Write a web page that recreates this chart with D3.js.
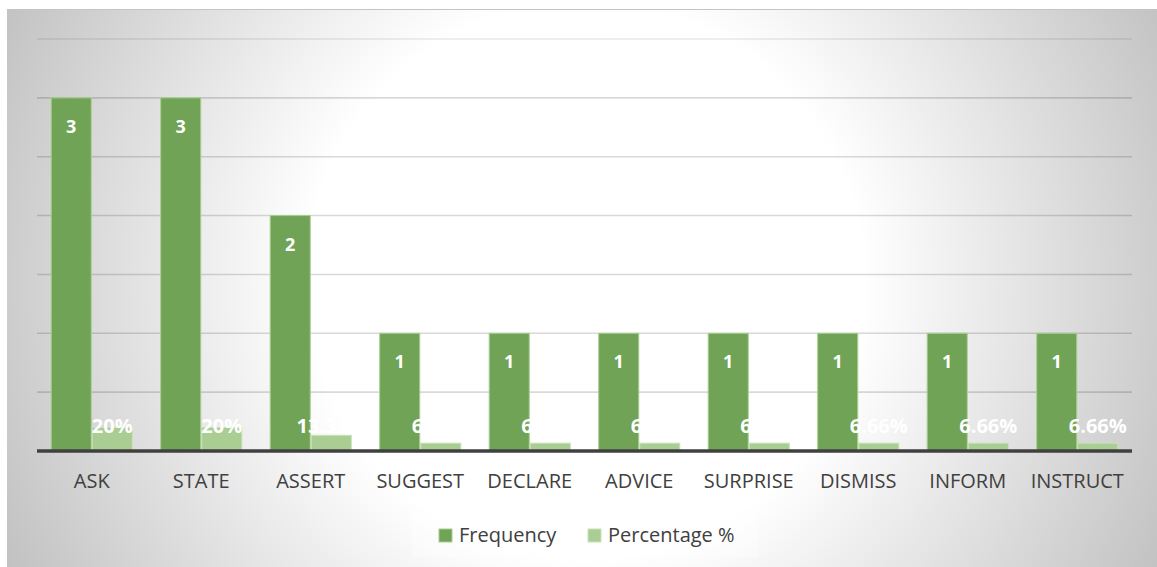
<!DOCTYPE html>
<html>
<head>
<meta charset="utf-8">
<script src="https://cdn.jsdelivr.net/npm/d3@7"></script>
<style>
  body { margin: 0; background: #fff; }
  svg { display: block; font-family: "Open Sans", "Noto Sans", sans-serif; }
</style>
</head>
<body>
<div class="holder"></div>
<script>
const wd = 1157
const ht = 567

// data
const categories = ["ASK", "STATE", "ASSERT", "SUGGEST", "DECLARE", "ADVICE", "SURPRISE", "DISMISS", "INFORM", "INSTRUCT"]
const frequency = [3, 3, 2, 1, 1, 1, 1, 1, 1, 1]
const percentage = [0.20, 0.20, 0.1333, 0.0666, 0.0666, 0.0666, 0.0666, 0.0666, 0.0666, 0.0666]
const percentLabels = ["20%", "20%", "13.33%", "6.66%", "6.66%", "6.66%", "6.66%", "6.66%", "6.66%", "6.66%"]
const seriesNames = ["Frequency", "Percentage %"]
const yTicks = [0, 0.5, 1, 1.5, 2, 2.5, 3, 3.5]

const cols = ["#70a355", "#a9cd93"]
const strokeCols = ["#a8cf8f", "#c8e2b8"]

const svg = d3.select(".holder").append("svg")
  .attr("width", wd)
  .attr("height", ht)

const defs = svg.append("defs")
const grad = defs.append("radialGradient")
  .attr("id", "bgGrad")
  .attr("gradientUnits", "userSpaceOnUse")
  .attr("cx", 585).attr("cy", 280).attr("r", 660)
grad.append("stop").attr("offset", "0").attr("stop-color", "#ffffff")
grad.append("stop").attr("offset", "0.42").attr("stop-color", "#ffffff")
grad.append("stop").attr("offset", "1").attr("stop-color", "#bfbfbf")

// chart frame
svg.append("rect")
  .attr("x", 7).attr("y", 9)
  .attr("width", wd - 7).attr("height", ht - 9)
  .attr("fill", "url(#bgGrad)")
svg.append("line")
  .attr("x1", 7).attr("x2", wd).attr("y1", 9.5).attr("y2", 9.5)
  .style("stroke", "#c4c4c4").style("stroke-width", "1px")

const plot = {left: 37, right: 1132, top: 39, bottom: 451}

const x = d3.scaleBand()
  .domain(categories)
  .range([plot.left, plot.right])
  .paddingInner(0.25)
  .paddingOuter(0.125)

const xSub = d3.scaleBand()
  .domain([0, 1])
  .range([0, x.bandwidth()])
  .padding(0)

const y = d3.scaleLinear()
  .domain([0, 3.5])
  .range([plot.bottom, plot.top])

// gridlines
svg.append("g")
  .selectAll("line")
  .data(yTicks.slice(1))
  .enter()
  .append("line")
  .attr("x1", plot.left).attr("x2", plot.right)
  .attr("y1", d => y(d)).attr("y2", d => y(d))
  .style("stroke", "rgba(0,0,0,0.15)")
  .style("stroke-width", "1.6px")
  .style("opacity", d => d == 3.5 ? 0.6 : 1)

const rows = categories.map((c, i) => ({cat: c, vals: [frequency[i], percentage[i]], lab: percentLabels[i]}))

const groups = svg.append("g")
  .selectAll("g")
  .data(rows)
  .enter()
  .append("g")
  .attr("transform", d => "translate(" + x(d.cat) + ",0)")

groups.selectAll("rect")
  .data(d => d.vals.map((v, k) => ({v: v, k: k})))
  .enter()
  .append("rect")
  .attr("x", d => xSub(d.k) + 0.5)
  .attr("width", xSub.bandwidth() - 1)
  .attr("y", d => y(d.v))
  .attr("height", d => y(0) - y(d.v))
  .attr("fill", d => cols[d.k])
  .style("stroke", d => strokeCols[d.k])
  .style("stroke-width", "1px")

// baseline
svg.append("line")
  .attr("x1", plot.left).attr("x2", plot.right)
  .attr("y1", y(0)).attr("y2", y(0))
  .style("stroke", "#404040")
  .style("stroke-width", "3.5px")

// frequency labels
groups.append("text")
  .attr("x", xSub(0) + xSub.bandwidth() / 2)
  .attr("y", d => y(d.vals[0]) + 35)
  .attr("text-anchor", "middle")
  .attr("fill", "#fff")
  .style("font-size", "18px")
  .style("font-weight", "bold")
  .text(d => d.vals[0])

// percentage labels
groups.append("text")
  .attr("x", xSub(1) + xSub.bandwidth() / 2)
  .attr("y", y(0) - 18)
  .attr("text-anchor", "middle")
  .attr("fill", "#fff")
  .style("font-size", "20px")
  .style("font-weight", "bold")
  .text(d => d.lab)

// category labels
svg.append("g")
  .selectAll("text")
  .data(categories)
  .enter()
  .append("text")
  .attr("x", d => x(d) + x.bandwidth() / 2)
  .attr("y", 488)
  .attr("text-anchor", "middle")
  .attr("fill", "#404040")
  .style("font-size", "20px")
  .text(d => d)

// legend
const legend = svg.append("g")
legend.append("rect")
  .attr("x", 412).attr("y", 513)
  .attr("width", 346).attr("height", 44)
  .attr("fill", "#fff").style("opacity", 0.35)

const legX = [439, 588]
seriesNames.forEach((s, i) => {
  legend.append("rect")
    .attr("x", legX[i]).attr("y", 529)
    .attr("width", 13).attr("height", 13)
    .attr("fill", cols[i])
    .style("stroke", strokeCols[i])
    .style("stroke-width", "1px")
  legend.append("text")
    .attr("x", legX[i] + 20).attr("y", 542)
    .attr("fill", "#404040")
    .style("font-size", "20px")
    .text(s)
})
</script>
</body>
</html>
